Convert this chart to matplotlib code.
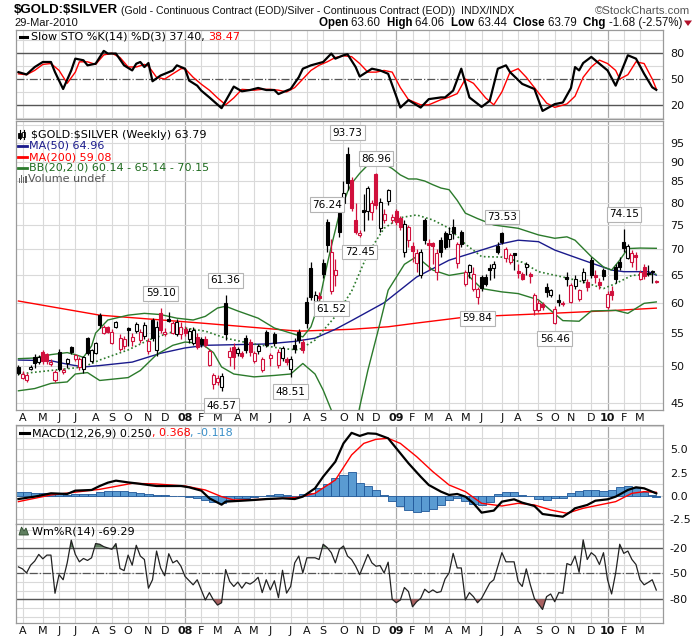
import numpy as np
import pandas as pd
import matplotlib
matplotlib.use("Agg")
import matplotlib.pyplot as plt
import matplotlib.transforms as mtransforms
from matplotlib.patches import Rectangle, Polygon
from matplotlib.lines import Line2D
from matplotlib.ticker import FixedLocator, FixedFormatter, NullLocator

W, H = 700, 639
ARIAL = ["Liberation Sans", "DejaVu Sans"]
SANS = ["DejaVu Sans"]

# weekly bars, Monday dated
weeks = pd.date_range("2007-03-26", periods=158, freq="W-MON")

opens = [49.9, 48.4, 48.0, 49.6, 51.3, 50.6, 52.1, 51.8, 50.3, 48.0,
         52.1, 49.2, 50.4, 52.8, 51.0, 49.9, 49.6, 54.2, 50.8, 52.0,
         57.9, 55.0, 55.9, 53.5, 56.0, 52.5, 53.0, 55.8, 53.8, 55.3,
         53.9, 54.5, 52.2, 57.1, 52.4, 58.3, 54.8, 57.3, 55.0, 54.8,
         54.8, 55.6, 54.0, 53.5, 54.4, 54.1, 54.1, 50.2, 47.5, 47.8,
         47.1, 60.0, 51.3, 52.9, 51.9, 52.0, 54.3, 53.6, 50.8, 52.2,
         49.4, 55.2, 51.2, 54.9, 50.2, 51.2, 51.1, 49.6, 53.1, 55.2,
         53.6, 60.2, 66.3, 59.0, 61.2, 67.2, 75.7, 62.0, 64.9, 77.6,
         79.8, 92.0, 85.3, 76.1, 72.9, 78.2, 78.0, 77.9, 86.9, 74.3,
         76.1, 80.3, 76.1, 78.0, 76.5, 69.5, 71.8, 70.6, 67.2, 64.9,
         76.1, 71.3, 71.2, 65.6, 71.8, 73.4, 72.0, 74.6, 67.3, 73.5,
         63.4, 65.5, 62.5, 61.0, 64.6, 64.6, 66.3, 66.2, 70.7, 73.3,
         68.2, 67.5, 69.0, 65.8, 65.1, 66.4, 65.1, 58.8, 58.8, 59.8,
         62.8, 61.4, 56.6, 60.5, 60.0, 64.6, 60.2, 63.0, 60.6, 64.0,
         63.7, 67.8, 65.0, 63.6, 65.9, 59.3, 62.1, 66.5, 67.5, 71.5,
         68.2, 67.5, 68.8, 64.3, 66.5, 65.4, 65.7, 63.60]
highs = [50.2, 49.3, 49.0, 50.2, 51.8, 51.6, 52.4, 52.0, 51.0, 49.5,
         52.5, 49.8, 51.2, 53.0, 51.8, 51.4, 51.5, 54.4, 52.6, 53.6,
         58.2, 56.3, 56.2, 55.6, 57.0, 54.8, 54.5, 56.0, 55.0, 56.8,
         55.6, 56.8, 54.2, 57.5, 57.0, 59.10, 55.8, 58.5, 57.0, 57.2,
         56.8, 56.2, 55.8, 56.0, 55.0, 54.4, 54.5, 52.6, 49.0, 48.8,
         49.0, 61.36, 52.8, 53.5, 52.9, 52.3, 54.7, 54.0, 52.3, 53.3,
         51.3, 55.5, 52.0, 55.1, 52.5, 53.0, 51.4, 51.5, 54.2, 55.6,
         54.0, 61.0, 67.5, 62.0, 61.8, 68.0, 76.24, 72.0, 68.0, 79.0,
         85.0, 93.73, 86.0, 80.0, 74.0, 82.0, 84.0, 80.6, 86.96, 81.0,
         78.5, 83.2, 77.5, 78.5, 77.0, 76.0, 75.0, 71.5, 70.0, 70.0,
         76.5, 72.0, 71.5, 70.0, 72.5, 73.8, 74.5, 76.3, 71.5, 74.0,
         66.0, 67.0, 66.5, 62.8, 65.0, 65.2, 67.0, 67.6, 71.5, 73.53,
         70.5, 69.2, 69.2, 67.0, 65.5, 67.4, 65.6, 61.7, 60.5, 60.2,
         63.5, 62.5, 59.5, 61.5, 60.3, 65.5, 63.5, 65.0, 62.5, 66.2,
         64.2, 68.5, 66.0, 64.5, 66.3, 62.0, 63.0, 67.0, 68.5, 74.15,
         71.0, 69.8, 69.5, 66.0, 67.0, 66.8, 66.0, 64.06]
lows = [48.7, 48.2, 47.8, 49.4, 49.8, 50.3, 50.3, 50.3, 50.0, 47.8,
        49.3, 48.9, 49.8, 51.8, 50.8, 49.5, 49.0, 51.7, 50.5, 51.8,
        55.8, 54.8, 55.0, 53.3, 55.8, 52.3, 52.6, 53.0, 53.0, 55.0,
        53.5, 54.0, 51.8, 53.8, 51.5, 55.0, 54.5, 56.7, 54.8, 54.5,
        54.0, 54.6, 53.5, 53.2, 52.5, 52.8, 52.8, 50.0, 46.9, 47.4,
        46.57, 53.9, 50.0, 49.6, 51.5, 51.2, 52.0, 51.5, 50.5, 51.8,
        49.2, 52.8, 50.0, 53.0, 49.8, 50.8, 50.2, 48.51, 52.0, 53.5,
        52.0, 55.8, 60.5, 58.5, 60.5, 64.5, 69.5, 61.52, 63.0, 72.5,
        78.0, 83.0, 78.0, 73.0, 72.45, 73.8, 76.0, 76.0, 78.5, 73.5,
        75.5, 79.5, 75.5, 75.0, 74.0, 68.5, 70.5, 67.5, 65.5, 64.5,
        71.0, 66.0, 67.0, 64.0, 68.5, 70.0, 70.5, 72.0, 66.3, 70.5,
        63.0, 64.5, 62.0, 59.84, 62.0, 63.0, 64.0, 64.5, 69.0, 71.0,
        67.5, 67.0, 66.0, 64.5, 64.0, 65.0, 63.5, 58.0, 58.5, 58.8,
        61.0, 61.0, 56.46, 59.5, 59.4, 63.0, 60.0, 62.5, 60.3, 63.5,
        62.0, 64.5, 63.5, 62.5, 64.0, 59.0, 60.5, 63.5, 66.0, 69.5,
        68.0, 66.5, 66.0, 64.0, 64.3, 64.8, 63.5, 63.44]
closes = [49.1, 48.9, 48.7, 49.9, 50.4, 51.3, 50.8, 50.7, 50.6, 49.2,
          49.6, 49.5, 51.0, 52.1, 51.6, 51.1, 51.3, 51.9, 52.4, 53.4,
          56.3, 56.0, 55.2, 55.1, 56.7, 54.3, 54.0, 55.5, 54.4, 56.5,
          55.2, 56.3, 53.8, 54.2, 55.9, 55.5, 55.2, 57.0, 56.6, 56.7,
          56.0, 55.0, 55.3, 55.5, 52.9, 53.3, 53.1, 52.3, 48.8, 48.3,
          48.6, 54.8, 52.2, 51.3, 52.5, 51.5, 52.4, 52.1, 52.0, 53.0,
          51.0, 53.2, 51.6, 53.4, 52.1, 52.7, 50.6, 51.1, 52.6, 53.9,
          52.4, 56.6, 61.0, 61.4, 60.9, 65.2, 70.8, 69.5, 65.9, 73.5,
          82.3, 84.5, 78.7, 73.6, 73.4, 77.9, 83.3, 80.0, 79.5, 80.2,
          77.5, 82.9, 76.8, 75.6, 74.6, 75.2, 74.5, 69.6, 69.2, 69.4,
          71.8, 70.8, 70.6, 69.2, 69.5, 70.5, 73.0, 73.3, 71.0, 71.1,
          65.5, 66.8, 65.2, 62.5, 62.6, 63.4, 66.0, 67.0, 69.5, 71.4,
          70.1, 68.8, 68.9, 65.3, 64.3, 67.1, 64.7, 61.3, 60.0, 59.3,
          61.9, 62.2, 59.0, 60.2, 59.8, 64.2, 63.1, 64.3, 62.2, 65.6,
          62.8, 64.9, 64.6, 63.2, 64.8, 61.6, 61.3, 64.3, 66.5, 70.3,
          70.6, 69.2, 68.5, 65.6, 64.8, 65.1, 65.47, 63.79]

# overlays: (week index, value)
ma50 = [(0, 50.9), (8, 50.8), (12, 50.3), (16, 49.9), (20, 50.1), (28, 50.6), (35, 51.9),
        (41, 52.7), (46, 53.1), (61, 53.3), (68, 53.7), (73, 54.2), (78, 55.6), (82, 57.0),
        (90, 60.0), (98, 64.6), (106, 67.8), (114, 69.8), (119, 71.1), (123, 71.8), (128, 71.5),
        (132, 69.8), (139, 67.8), (146, 65.9), (149, 65.6), (155, 65.6), (157, 64.96)]
ma200 = [(0, 60.3), (20, 57.9), (45, 56.6), (69, 55.3), (82, 55.6), (91, 56.0), (98, 56.6),
         (109, 57.5), (114, 57.7), (131, 58.2), (147, 58.7), (157, 59.08)]
bb_up = [(0, 51.1), (4, 51.2), (8, 51.7), (12, 52.0), (14, 51.7), (16, 51.3), (18, 53.0),
         (19, 55.0), (22, 57.1), (27, 57.9), (31, 58.2), (35, 58.0), (39, 57.4), (43, 57.1),
         (46, 57.7), (49, 59.1), (51, 59.4), (54, 58.6), (59, 57.4), (63, 55.8), (67, 55.0),
         (70, 54.4), (72, 56.0), (74, 60.0), (75, 63.5), (76, 67.0), (77, 70.5), (79, 77.5),
         (81, 82.5), (82, 84.5), (84, 87.0), (86, 89.1), (88, 89.7), (90, 89.4), (92, 88.2),
         (94, 86.6), (96, 85.6), (98, 85.6), (100, 85.1), (102, 84.2), (104, 83.4), (106, 83.0),
         (108, 80.5), (110, 77.6), (113, 76.4), (117, 75.0), (123, 74.3), (128, 72.9),
         (132, 72.2), (135, 72.5), (137, 71.8), (141, 68.5), (144, 66.5), (146, 65.9),
         (148, 67.8), (150, 70.1), (153, 70.2), (157, 70.15)]
bb_mid = [(0, 48.9), (8, 49.4), (16, 49.9), (20, 50.9), (27, 52.4), (32, 53.9), (37, 55.0),
          (41, 55.8), (46, 55.3), (51, 54.2), (57, 53.4), (65, 52.6), (69, 52.4), (73, 53.9),
          (78, 57.7), (82, 62.0), (86, 69.1), (90, 74.3), (94, 76.6), (98, 77.2), (102, 76.1),
          (106, 74.3), (110, 71.0), (114, 68.5), (119, 68.4), (124, 67.4), (128, 65.6),
          (134, 64.6), (139, 63.7), (144, 62.5), (147, 63.4), (151, 64.9), (157, 65.14)]
bb_lo = [(0, 46.6), (4, 46.9), (8, 47.6), (12, 47.8), (14, 48.9), (17, 49.1), (20, 48.0),
         (27, 48.4), (30, 49.4), (34, 51.7), (38, 53.1), (41, 53.6), (45, 53.4), (48, 52.0),
         (50, 49.9), (53, 48.9), (58, 48.5), (63, 48.7), (67, 48.9), (70, 50.4), (73, 48.9),
         (75, 46.7), (77, 44.1), (80, 38.5), (83, 42.0), (84, 44.5), (86, 49.4), (89, 56.6),
         (91, 62.2), (95, 67.0), (98, 68.5), (102, 65.9), (106, 64.9), (110, 65.4), (114, 62.5),
         (119, 61.9), (123, 61.6), (128, 60.5), (131, 58.7), (134, 57.0), (138, 56.9),
         (141, 58.6), (147, 58.7), (150, 58.2), (154, 59.9), (157, 60.14)]
high_marks = [35, 51, 76, 81, 88, 119, 149]
low_marks = [50, 67, 77, 84, 113, 132]

sto_k = [(0, 58), (2, 55.3), (4, 63.9), (6, 69.8), (8, 69.8), (9, 58), (11, 38.4), (13, 60),
         (14, 73.7), (16, 71.8), (17, 65.9), (19, 67.8), (21, 82.7), (22, 79.6), (24, 79.6),
         (26, 65.9), (28, 60), (29, 67.8), (30, 69.8), (31, 63.9), (32, 68.6), (33, 47.4),
         (35, 54.1), (37, 58), (38, 60), (39, 65.9), (41, 62), (42, 48.2), (44, 42.3),
         (45, 36.5), (47, 28.6), (50, 16.1), (53, 41.2), (55, 35.7), (57, 37.2), (59, 39.6),
         (61, 37.2), (63, 37.2), (64, 32.5), (66, 36.5), (67, 38.4), (69, 52.1), (70, 62),
         (72, 65.9), (75, 69.8), (77, 79.6), (78, 73.7), (80, 77.6), (81, 78.8), (83, 63.9),
         (84, 52.9), (87, 62), (89, 60), (91, 56.1), (94, 16.8), (96, 25.5), (99, 16.8),
         (101, 26.6), (104, 28.6), (105, 28.6), (107, 36.5), (109, 62), (111, 28.6),
         (114, 17.6), (116, 24.7), (118, 62), (120, 65.9), (121, 58), (124, 44.3), (127, 38.4),
         (129, 12.9), (132, 20.8), (134, 22.7), (136, 39.6), (137, 63.9), (138, 60),
         (139, 68.6), (141, 75.7), (143, 67.8), (145, 60), (147, 42.3), (149, 65.9),
         (150, 77.6), (152, 73.7), (154, 56.1), (156, 40.4), (157, 37.40)]
sto_d = [(0, 56), (2, 55), (4, 60), (6, 67), (8, 68), (10, 60), (12, 45), (14, 58), (15, 70),
         (17, 70), (19, 67), (21, 78), (23, 80), (25, 75), (27, 64), (29, 64), (31, 67),
         (32, 65), (34, 52), (36, 50), (38, 56), (40, 62), (41, 62), (43, 52), (45, 44),
         (47, 37), (49, 28), (51, 20), (53, 28), (55, 38), (58, 37), (60, 38), (62, 38),
         (64, 37), (66, 35), (68, 40), (70, 50), (72, 60), (74, 66), (76, 70), (78, 75),
         (80, 77), (82, 76), (84, 68), (86, 58), (88, 58), (90, 60), (92, 58), (94, 40),
         (96, 26), (99, 20), (101, 20), (104, 26), (106, 29), (108, 33), (110, 50), (112, 45),
         (115, 28), (117, 20), (119, 35), (121, 58), (123, 62), (125, 52), (127, 40),
         (130, 22), (132, 17), (135, 21), (137, 30), (139, 52), (141, 64), (143, 72),
         (145, 68), (147, 60), (148, 50), (150, 55), (152, 70), (154, 68), (156, 50),
         (157, 38.47)]

macd = [(0, -0.36), (4, -0.10), (8, 0.26), (12, 0.19), (14, 0.55), (18, 0.62), (20, 1.05),
        (22, 1.41), (24, 1.63), (27, 1.44), (29, 1.34), (32, 1.16), (34, 1.05), (37, 1.05),
        (40, 1.05), (42, 0.91), (45, 0.55), (47, -0.28), (50, -0.97), (51, -0.64), (55, -0.54),
        (58, -0.46), (61, -0.36), (65, -0.28), (68, -0.36), (70, -0.10), (73, 0.80), (75, 2.06),
        (78, 3.68), (80, 5.66), (82, 6.80), (84, 6.47), (86, 6.75), (88, 6.70), (91, 6.21),
        (94, 4.59), (96, 3.51), (99, 2.06), (101, 1.16), (104, 0.44), (106, 0.08), (108, 0.19),
        (110, -0.10), (112, -0.82), (114, -1.83), (117, -1.61), (119, -0.64), (122, -0.39),
        (124, -0.75), (127, -1.11), (129, -1.98), (132, -2.16), (134, -2.27), (136, -1.72),
        (137, -1.36), (140, -1.0), (142, -0.54), (145, -0.39), (147, -0.10), (150, 0.62),
        (152, 0.91), (154, 0.80), (157, 0.25)]
signal = [(0, -0.64), (8, 0.08), (20, 0.69), (28, 1.34), (34, 1.27), (41, 1.05), (46, 0.62),
          (50, -0.10), (53, -0.46), (61, -0.39), (69, -0.17), (73, 0.26), (78, 1.70), (82, 4.41),
          (85, 5.66), (88, 6.10), (91, 6.21), (94, 5.66), (98, 4.23), (102, 2.60), (106, 1.16),
          (110, 0.44), (114, -0.82), (119, -1.11), (123, -0.82), (127, -1.0), (131, -1.54),
          (135, -1.90), (139, -1.36), (143, -1.0), (147, -0.64), (151, 0.26), (154, 0.44),
          (157, 0.368)]
hist_weeks = list(range(0, 157, 2)) + [157]
hist_vals = [0.35, 0.35, 0.3, 0.25, 0.2, 0.15, 0.1, 0.15, 0.15, 0.2,
             0.35, 0.5, 0.55, 0.5, 0.4, 0.25, 0.15, 0.1, 0.05, 0.0,
             -0.05, -0.15, -0.25, -0.45, -0.65, -0.8, -0.5, -0.3, -0.2, -0.1,
             -0.05, 0.1, 0.15, 0.05, 0.0, 0.15, 0.3, 0.8, 1.3, 1.9,
             2.2, 2.6, 1.4, 1.0, 0.6, 0.1, -0.6, -1.1, -1.5, -1.8,
             -1.7, -1.4, -1.0, -0.5, -0.3, -0.6, -0.9, -1.0, -0.7, 0.2,
             0.4, 0.4, 0.1, 0.0, -0.4, -0.5, -0.3, -0.2, 0.3, 0.5,
             0.6, 0.6, 0.5, 0.6, 0.9, 1.0, 0.8, 0.4, 0.1, -0.118]

willr = [(0, -42.4), (1, -44.7), (2, -49.4), (3, -40.4), (4, -35.7), (5, -27.9), (6, -33.0),
         (7, -28.7), (8, -28.7), (9, -73.0), (10, -51.4), (11, -57.3), (12, -37.7), (13, -11.4),
         (14, -27.9), (15, -36.5), (16, -32.6), (17, -34.9), (18, -31.8), (19, -15.3),
         (20, -16.1), (21, -18.9), (23, -22.0), (24, -15.3), (25, -44.3), (26, -46.7),
         (27, -28.7), (28, -40.4), (29, -17.3), (30, -29.8), (31, -33.8), (32, -67.1),
         (33, -57.3), (34, -24.0), (35, -43.6), (36, -52.6), (37, -27.1), (38, -37.7),
         (39, -34.9), (40, -41.6), (41, -53.4), (43, -63.2), (44, -57.3), (45, -69.1),
         (46, -80.8), (47, -72.2), (48, -80.8), (49, -86.7), (50, -84.0), (51, -45.5),
         (52, -59.3), (53, -65.1), (54, -60.0), (55, -67.1), (56, -60.4), (57, -62.4),
         (58, -59.3), (59, -54.5), (60, -72.2), (61, -57.3), (62, -69.1), (63, -58.5),
         (64, -78.1), (65, -46.3), (66, -72.8), (67, -65.1), (68, -37.7), (69, -29.8),
         (70, -49.4), (71, -31.8), (73, -31.8), (74, -33.8), (75, -16.1), (76, -20.0),
         (77, -25.9), (78, -37.7), (79, -22.0), (80, -18.1), (81, -29.8), (82, -33.8),
         (83, -41.6), (84, -51.4), (86, -27.9), (87, -37.7), (88, -41.6), (89, -40.8),
         (90, -49.4), (91, -36.9), (92, -80.0), (93, -84.0), (94, -80.8), (95, -66.3),
         (96, -71.0), (97, -88.7), (98, -82.9), (99, -78.9), (100, -68.3), (101, -72.2),
         (102, -69.1), (103, -72.2), (104, -71.0), (105, -56.5), (106, -49.4), (107, -26.7),
         (108, -43.6), (109, -43.6), (110, -80.8), (111, -72.2), (112, -77.0), (113, -84.0),
         (114, -78.9), (116, -61.2), (117, -57.3), (118, -41.6), (119, -25.9), (120, -36.5),
         (122, -36.5), (123, -59.3), (124, -65.1), (125, -44.7), (126, -63.2), (127, -79.1),
         (129, -91.8), (130, -76.9), (131, -73.8), (132, -82.8), (133, -72.2), (134, -73.0),
         (135, -38.5), (136, -40.4), (137, -29.8), (138, -48.7), (139, -11.0), (140, -33.8),
         (141, -25.9), (142, -29.8), (143, -39.6), (144, -25.9), (145, -57.3), (146, -73.8),
         (147, -49.4), (148, -16.1), (149, -26.7), (150, -24.0), (151, -33.8), (152, -39.6),
         (153, -57.3), (154, -63.2), (155, -60.4), (156, -57.3), (157, -69.29)]

# ---------------------------------------------------------------- layout
fig = plt.figure(figsize=(W / 100, H / 100), dpi=100)
fig.patch.set_facecolor("white")
renderer = fig.canvas.get_renderer()


def frac(x, y):
    return x / W, 1 - y / H


def panel(top, bottom):
    return fig.add_axes([16 / W, 1 - bottom / H, 647 / W, (bottom - top) / H])


ax_sto = panel(30, 119)
ax_px = panel(121, 410)
ax_macd = panel(425, 524)
ax_wr = panel(524, 623)
axes = [ax_sto, ax_px, ax_macd, ax_wr]

n = len(closes)
month_pos, month_txt, month_year = [], [], []
for i in range(1, n):
    if weeks[i].month != weeks[i - 1].month:
        month_pos.append(i)
        if weeks[i].month == 1:
            month_txt.append(weeks[i].strftime("%y"))
            month_year.append(True)
        else:
            month_txt.append("JFMAMJJASOND"[weeks[i].month - 1])
            month_year.append(False)

GRID = "#d9d9d9"
for ax in axes:
    ax.set_xlim(-0.6, 158.65)
    ax.set_facecolor("white")
    for s in ax.spines.values():
        s.set_color("#9a9a9a")
        s.set_linewidth(0.9)
    ax.yaxis.tick_right()
    ax.tick_params(length=0, labelsize=8, pad=5, labelcolor="#111111")
    ax.set_xticks([])
    for p, yr in zip(month_pos, month_year):
        ax.axvline(p, color="#a9a9a9" if yr else GRID, lw=0.9 if yr else 0.8, zorder=0)

for ax in (ax_px, ax_wr):
    tr = mtransforms.blended_transform_factory(ax.transData, ax.transAxes)
    for p, t, yr in zip(month_pos, month_txt, month_year):
        ax.annotate(t, xy=(p, 0), xycoords=tr, xytext=(0, -2.5), textcoords="offset points",
                    ha="center", va="top", fontsize=8, family=SANS,
                    fontweight="bold" if yr else "normal", color="#111111")


def set_yticks(ax, ticks, labels):
    ax.yaxis.set_major_locator(FixedLocator(ticks))
    ax.yaxis.set_major_formatter(FixedFormatter(labels))
    ax.yaxis.set_minor_locator(NullLocator())


def xy(pairs):
    return [p[0] for p in pairs], [p[1] for p in pairs]


# ---------------------------------------------------------------- slow stochastics
ax_sto.set_ylim(3.5, 107)
for v in (5, 35, 65, 95):
    ax_sto.axhline(v, color=GRID, lw=0.8, zorder=0)
for v in (20, 80):
    ax_sto.axhline(v, color="#555555", lw=1.0, zorder=1)
ax_sto.axhline(50, color="#555555", lw=0.9, ls="-.", zorder=1)
set_yticks(ax_sto, [20, 50, 80], ["20", "50", "80"])
ax_sto.plot(*xy(sto_d), color="#ff0000", lw=1.0, zorder=3)
ax_sto.plot(*xy(sto_k), color="black", lw=1.6, zorder=4)

# ---------------------------------------------------------------- price
ax_px.set_yscale("log")
ax_px.set_ylim(44.1, 101.1)
for v in range(45, 101, 5):
    ax_px.axhline(v, color=GRID, lw=0.8, zorder=0)
set_yticks(ax_px, list(range(45, 96, 5)), [str(v) for v in range(45, 96, 5)])

GREEN = "#2b7a2b"
ax_px.plot(*xy(ma200), color="#ff0000", lw=1.0, zorder=2)
ax_px.plot(*xy(ma50), color="#1a1a8c", lw=1.0, zorder=2)
ax_px.plot(*xy(bb_up), color=GREEN, lw=1.0, zorder=2)
ax_px.plot(*xy(bb_lo), color=GREEN, lw=1.0, zorder=2)
ax_px.plot(*xy(bb_mid), color=GREEN, lw=1.2, ls=(0, (1, 1.5)), zorder=2)

RED = "#d0103c"
body_w = 0.74
for i in range(n):
    o, h, l, c = opens[i], highs[i], lows[i], closes[i]
    up = True if i == 0 else c >= closes[i - 1]
    col = "black" if up else RED
    ax_px.vlines(i, l, h, color=col, lw=0.9, zorder=3)
    lo_b, hi_b = min(o, c), max(o, c)
    hi_b = max(hi_b, lo_b * 1.004)
    ax_px.add_patch(Rectangle((i - body_w / 2, lo_b), body_w, hi_b - lo_b,
                              facecolor="white" if c > o else col, edgecolor=col,
                              lw=0.8, zorder=4))

box = dict(boxstyle="square,pad=0.22", fc="white", ec="#b4b4b4", lw=0.8)
for i in high_marks:
    ax_px.annotate(f"{highs[i]:.2f}", xy=(i, highs[i]), xytext=(0, 7), textcoords="offset points",
                   ha="center", va="bottom", fontsize=7.5, bbox=box, zorder=6)
for i in low_marks:
    ax_px.annotate(f"{lows[i]:.2f}", xy=(i, lows[i]), xytext=(0, -7), textcoords="offset points",
                   ha="center", va="top", fontsize=7.5, bbox=box, zorder=6)

# ---------------------------------------------------------------- MACD
ax_macd.set_ylim(-3.06, 7.65)
for v in np.arange(-2.5, 7.6, 1.25):
    ax_macd.axhline(v, color=GRID, lw=0.8, zorder=0)
set_yticks(ax_macd, [-2.5, 0, 2.5, 5.0], ["-2.5", "0.0", "2.5", "5.0"])
ax_macd.bar(hist_weeks, hist_vals, width=2.0, color="#5a9bd2", edgecolor="#1f5799", lw=0.6, zorder=2)
ax_macd.plot(*xy(signal), color="#ff0000", lw=1.0, zorder=3)
ax_macd.plot(*xy(macd), color="black", lw=1.6, zorder=4)

# ---------------------------------------------------------------- Williams %R
ax_wr.set_ylim(-107.5, 7.4)
for v in range(-100, 1, 10):
    ax_wr.axhline(v, color=GRID, lw=0.8, zorder=0)
for v in (-20, -80):
    ax_wr.axhline(v, color="#555555", lw=1.0, zorder=1)
ax_wr.axhline(-50, color="#555555", lw=0.9, ls="-.", zorder=1)
set_yticks(ax_wr, [-20, -50, -80], ["-20", "-50", "-80"])
wx, wv = xy(willr)
wv = np.array(wv)
ax_wr.fill_between(wx, wv, -20, where=wv > -20, interpolate=True, color="#5f7f5f", lw=0, zorder=2)
ax_wr.fill_between(wx, wv, -80, where=wv < -80, interpolate=True, color="#a86060", lw=0, zorder=2)
ax_wr.plot(wx, wv, color="#222222", lw=0.9, zorder=3)


# ---------------------------------------------------------------- texts
def seg_width(s, size, family, weight):
    a = fig.text(0, 0, s + "x", fontsize=size, family=family, fontweight=weight, parse_math=False)
    b = fig.text(0, 0, "x", fontsize=size, family=family, fontweight=weight, parse_math=False)
    w = a.get_window_extent(renderer).width - b.get_window_extent(renderer).width
    a.remove()
    b.remove()
    return w


def write(x, y, parts, size=8, family=SANS, right=False):
    widths = [seg_width(s, size, family, wt) for s, c, wt in parts]
    x0 = x - sum(widths) if right else x
    for (s, c, wt), wd in zip(parts, widths):
        fig.text(*frac(x0, y), s, color=c, fontsize=size, family=family, fontweight=wt,
                 va="center", ha="left", parse_math=False)
        x0 += wd


def mark(x0, x1, y, color, lw=2.0):
    fig.add_artist(Line2D([x0 / W, x1 / W], [1 - y / H] * 2, transform=fig.transFigure,
                          color=color, lw=lw))


write(14, 10, [("$GOLD:$SILVER", "black", "bold")], size=9.5, family=ARIAL)
write(121, 11, [("(Gold - Continuous Contract (EOD)/Silver - Continuous Contract (EOD))  INDX/INDX",
                 "#111111", "normal")], size=7.6, family=ARIAL)
write(690, 11, [("©StockCharts.com", "#555555", "normal")], size=8.2, family=ARIAL, right=True)
write(14, 23, [("29-Mar-2010", "#111111", "normal")], size=8, family=ARIAL)

chg = closes[-1] - closes[-2]
pct = chg / closes[-2] * 100
write(682, 23, [("Open ", "black", "bold"), (f"{opens[-1]:.2f}  ", "#111111", "normal"),
                ("High ", "black", "bold"), (f"{highs[-1]:.2f}  ", "#111111", "normal"),
                ("Low ", "black", "bold"), (f"{lows[-1]:.2f}  ", "#111111", "normal"),
                ("Close ", "black", "bold"), (f"{closes[-1]:.2f}  ", "#111111", "normal"),
                ("Chg ", "black", "bold"), (f"{chg:.2f} ({pct:.2f}%)", "#111111", "normal")],
      size=8.3, family=ARIAL, right=True)
fig.add_artist(Polygon([frac(684, 20.5), frac(692, 20.5), frac(688, 26)], closed=True,
                       transform=fig.transFigure, facecolor="#b0102a", edgecolor="none"))

# stochastics legend
mark(20, 27, 36.5, "black", 2.2)
write(31, 36.5, [("Slow STO %K(14) %D(3) 37.40, ", "black", "normal"), ("38.47", "#ff0000", "normal")])

# price legend
for k, x0 in enumerate((19.5, 23.5)):
    fig.add_artist(Line2D([x0 / W] * 2, [1 - 139.5 / H, 1 - 130.5 / H], transform=fig.transFigure,
                          color="black", lw=0.8))
    fig.add_artist(Rectangle(frac(x0 - 1.3, 137.5 - k), 2.6 / W, 4.5 / H, transform=fig.transFigure,
                             facecolor="black" if k == 0 else "white", edgecolor="black", lw=0.6))
write(31, 135, [("$GOLD:$SILVER (Weekly) 63.79", "black", "normal")])
mark(18, 27, 146, "#1a1a8c", 2.0)
write(29, 146, [("MA(50) 64.96", "#1a1a8c", "normal")])
mark(18, 27, 157, "#ff0000", 2.0)
write(29, 157, [("MA(200) 59.08", "#ff0000", "normal")])
mark(18, 27, 168, GREEN, 2.0)
write(29, 168, [("BB(20,2.0) 60.14 - 65.14 - 70.15", "#1e6b1e", "normal")])
for k, hgt in enumerate((5, 8, 6, 7)):
    fig.add_artist(Rectangle(frac(18.5 + 2.2 * k, 183), 1.6 / W, hgt / H, transform=fig.transFigure,
                             facecolor="#666666", edgecolor="none"))
write(28, 179, [("Volume undef", "#555555", "normal")])

# MACD legend
mark(20, 29, 433, "black", 2.2)
write(32, 433, [("MACD(12,26,9) 0.250", "black", "normal"), (", 0.368", "#ff0000", "normal"),
                (", -0.118", "#3a8fc8", "normal")])

# Williams %R legend
fig.add_artist(Polygon([frac(19, 535), frac(21.5, 527), frac(24, 531), frac(26, 528), frac(28.5, 535)],
                       closed=True, transform=fig.transFigure, facecolor="#5f7f5f",
                       edgecolor="#2d4a2d", lw=0.6))
write(32, 531, [("Wm%R(14) -69.29", "black", "normal")])

fig.savefig("out.png", dpi=100, facecolor="white")
